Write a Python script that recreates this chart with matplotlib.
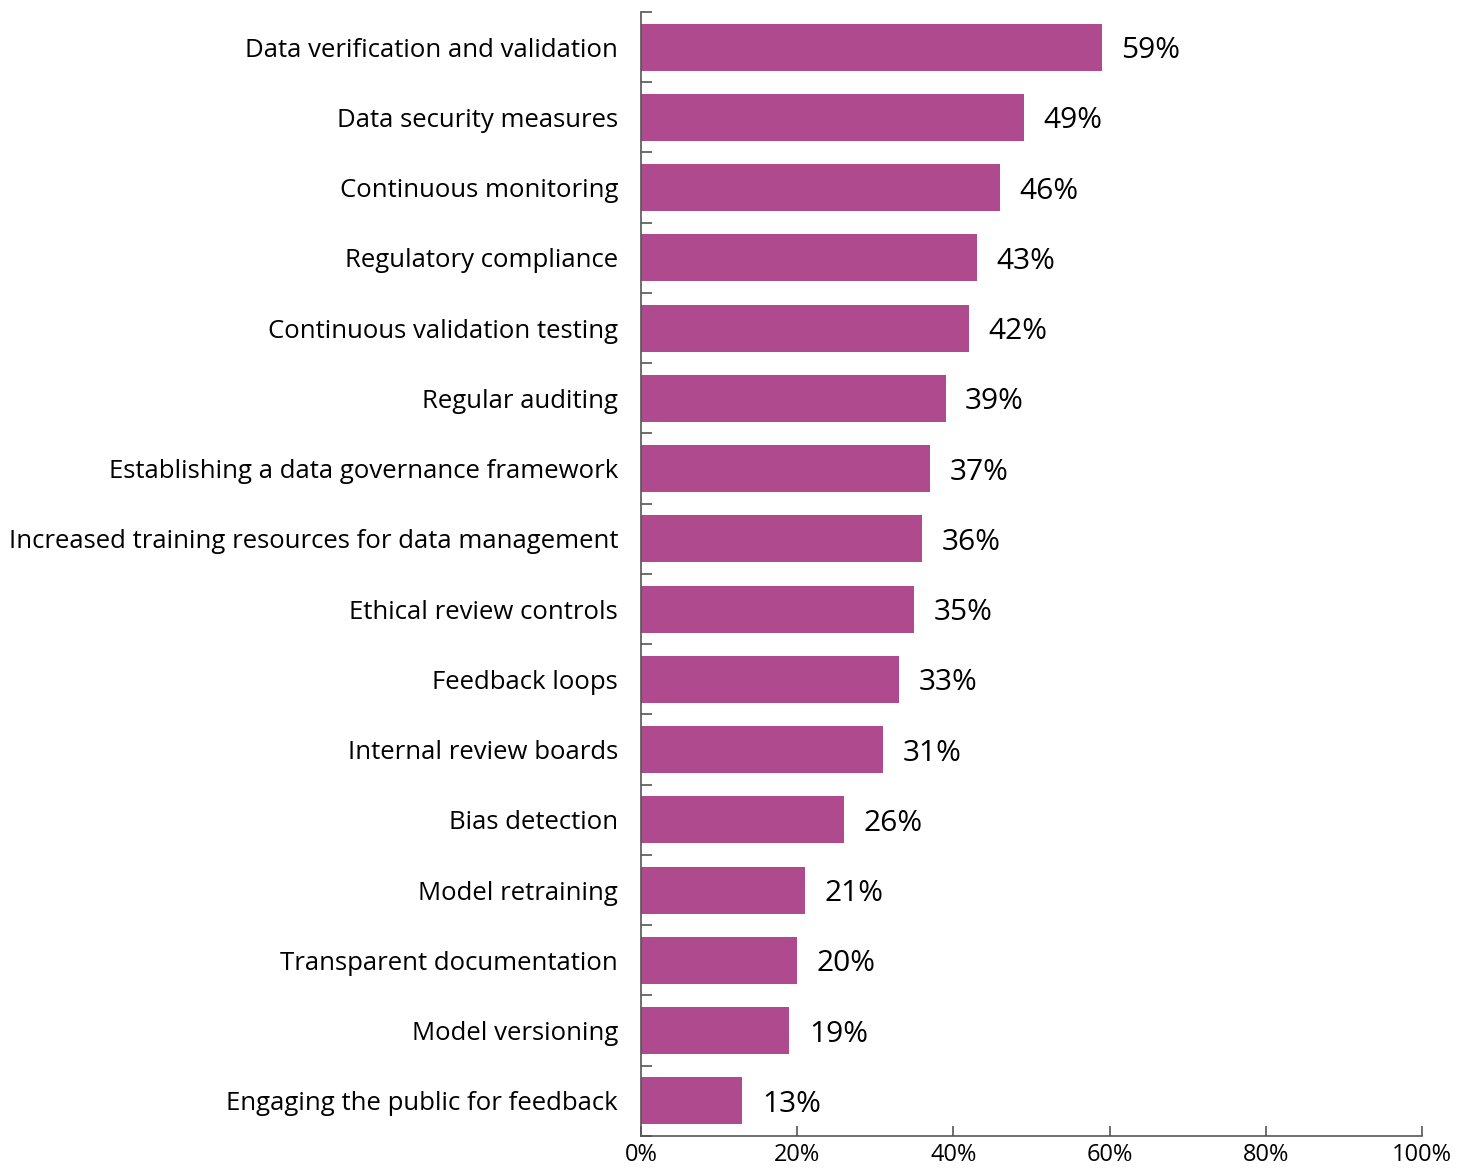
import matplotlib
matplotlib.use("Agg")
import matplotlib.pyplot as plt
from matplotlib.ticker import FixedLocator, PercentFormatter

categories = [
    "Data verification and validation",
    "Data security measures",
    "Continuous monitoring",
    "Regulatory compliance",
    "Continuous validation testing",
    "Regular auditing",
    "Establishing a data governance framework",
    "Increased training resources for data management",
    "Ethical review controls",
    "Feedback loops",
    "Internal review boards",
    "Bias detection",
    "Model retraining",
    "Transparent documentation",
    "Model versioning",
    "Engaging the public for feedback",
]
values = [59, 49, 46, 43, 42, 39, 37, 36, 35, 33, 31, 26, 21, 20, 19, 13]
x_ticks = [0, 20, 40, 60, 80, 100]

bar_color = "#AF4A8F"
axis_color = "#555555"

plt.rcParams["font.family"] = ["Open Sans", "DejaVu Sans"]

fig = plt.figure(figsize=(14.65, 11.71), dpi=100)
ax = fig.add_axes([0.4375, 0.0299, 0.5331, 0.9599])

positions = list(range(len(categories)))
ax.barh(positions, values, height=0.67, color=bar_color, zorder=2)

# value labels just past the end of each bar
for pos, val in zip(positions, values):
    ax.text(val + 2.5, pos, f"{val}%", va="center_baseline", ha="left",
            fontsize=21.5, color="black")

ax.set_ylim(len(categories) - 0.5, -0.5)
ax.set_xlim(0, 100)

ax.set_yticks(positions)
ax.set_yticklabels(categories, fontsize=18.5)
ax.tick_params(axis="y", which="major", length=0, pad=16.5)
ax.yaxis.set_minor_locator(FixedLocator([p - 0.5 for p in positions] + [len(categories) - 0.5]))
ax.tick_params(axis="y", which="minor", direction="in", length=8, width=1.2, color=axis_color)

ax.xaxis.set_major_locator(FixedLocator(x_ticks))
ax.xaxis.set_major_formatter(PercentFormatter(decimals=0))
ax.tick_params(axis="x", direction="in", length=7, width=1.2, color=axis_color,
               labelsize=17, pad=5)

for side in ("top", "right"):
    ax.spines[side].set_visible(False)
for side in ("left", "bottom"):
    ax.spines[side].set_color(axis_color)
    ax.spines[side].set_linewidth(1.2)

fig.savefig("out.png", dpi=100)
